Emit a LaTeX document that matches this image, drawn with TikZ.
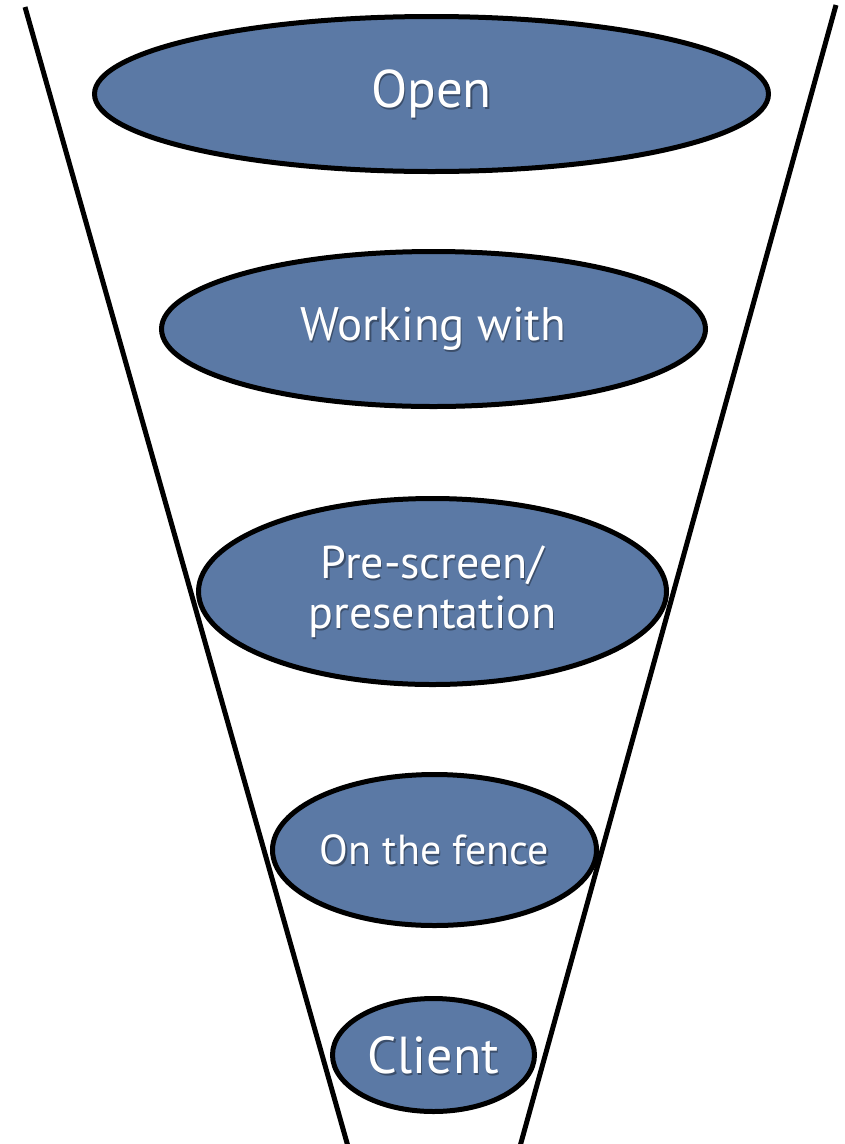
\documentclass[tikz,border=0pt]{standalone}
\usepackage{fontspec}
\setmainfont{PT Sans}
\usetikzlibrary{shapes.geometric}
\definecolor{funnelblue}{RGB}{91,121,165}
\begin{document}
\begin{tikzpicture}[x=1pt,y=-1pt,
  stage/.style={ellipse, draw=black, line width=5pt, fill=funnelblue, inner sep=0pt},
  wall/.style={draw=black, line width=5pt},
  caption/.style={text=white, align=center, inner sep=0pt},
  textshadow/.style={text=black, opacity=0.35, align=center, inner sep=0pt},
  fopen/.style={font=\fontsize{53}{53}\selectfont},
  fwork/.style={font=\fontsize{47}{47}\selectfont},
  fpre/.style={font=\fontsize{46}{50}\selectfont},
  ffence/.style={font=\fontsize{42}{42}\selectfont},
  fclient/.style={font=\fontsize{52}{52}\selectfont}]
\useasboundingbox (0,0) rectangle (844,1144);

% funnel walls
\coordinate (lt) at (25,7);
\coordinate (lb) at (349,1150);
\coordinate (rt) at (836,5);
\coordinate (rb) at (519,1150);
\draw[wall] (lt) -- (lb);
\draw[wall] (rt) -- (rb);

% funnel stages
\node[stage, minimum width=674pt, minimum height=155pt] (open) at (431.5,94) {};
\node[stage, minimum width=544pt, minimum height=155pt] (work) at (433.5,329) {};
\node[stage, minimum width=468pt, minimum height=186pt] (pre) at (432.5,591.5) {};
\node[stage, minimum width=324pt, minimum height=151pt] (fence) at (434.5,850) {};
\node[stage, minimum width=202pt, minimum height=113pt] (client) at (433.5,1055) {};

% stage labels with a soft drop shadow
\foreach \n/\t/\s in {open/Open/fopen, work/Working with/fwork, pre/{Pre-screen/\\presentation}/fpre, fence/On the fence/ffence, client/Client/fclient}{
  \node[textshadow, \s] at ([xshift=1.2pt,yshift=-2pt]\n.center) {\t};
  \node[caption, \s] (\n-text) at (\n.center) {\t};
}
\end{tikzpicture}
\end{document}
